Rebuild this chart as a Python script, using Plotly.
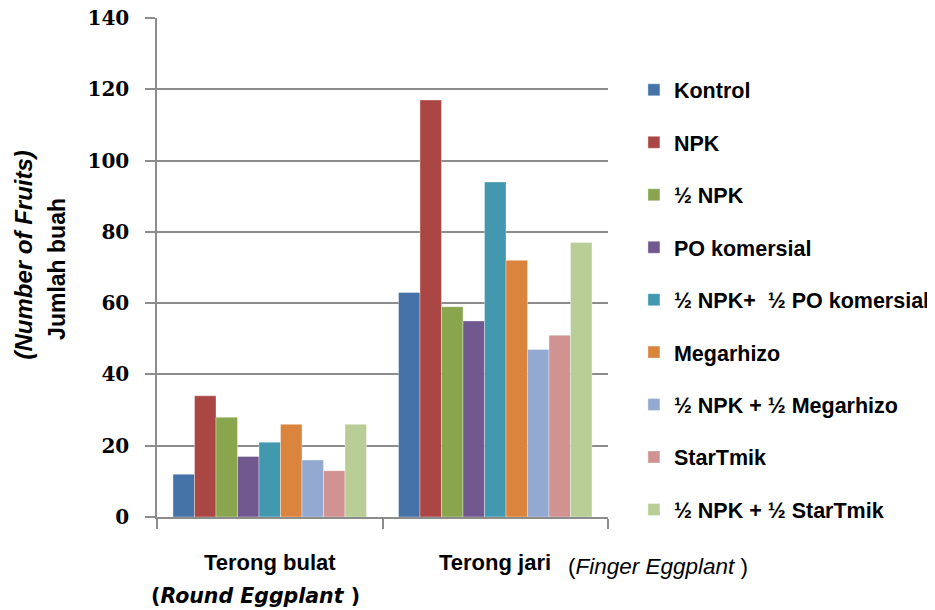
import plotly.graph_objects as go

categories = ["Terong bulat", "Terong jari"]
series_names = [
    "Kontrol", "NPK", "½ NPK", "PO komersial", "½ NPK+  ½ PO komersial",
    "Megarhizo", "½ NPK + ½ Megarhizo", "StarTmik", "½ NPK + ½ StarTmik",
]
terong_bulat = [12, 34, 28, 17, 21, 26, 16, 13, 26]
terong_jari = [63, 117, 59, 55, 94, 72, 47, 51, 77]
colors = ["#4572A7", "#AA4643", "#89A54E", "#71588F", "#4198AF",
          "#DB843D", "#93A9CF", "#D19392", "#B9CD96"]
y_ticks = [0, 20, 40, 60, 80, 100, 120, 140]

fig = go.Figure()
for i, name in enumerate(series_names):
    fig.add_trace(go.Bar(
        x=categories, y=[terong_bulat[i], terong_jari[i]], name=name,
        marker=dict(color=colors[i], line=dict(width=0.6, color="rgba(255,255,255,0.6)")),
        legendgroup=f"g{i}",
    ))

axis_gray = "#8c8c8c"
sans = "Liberation Sans, Arial, sans-serif"
# the page body has an 8px margin, so the figure is 927x602 placed at (8, 8)
fig.update_layout(
    width=927, height=602,
    margin=dict(l=149, r=327, t=10, b=93, autoexpand=False),
    paper_bgcolor="white", plot_bgcolor="white",
    barmode="group", bargap=0.142, bargroupgap=0,
    showlegend=True,
    legend=dict(x=1.0575, xanchor="left", y=0.897, yanchor="top",
                font=dict(family=sans, size=21.5, color="black", weight="bold"),
                tracegroupgap=21.5, traceorder="grouped", bgcolor="rgba(0,0,0,0)"),
    font=dict(family=sans, color="black"),
)
fig.update_xaxes(
    showticklabels=False, showline=True, linecolor=axis_gray, linewidth=1.5,
    ticks="outside", tickson="boundaries", ticklen=10, tickcolor=axis_gray, tickwidth=1.5,
    showgrid=False, zeroline=False, automargin=False,
)
fig.update_yaxes(
    range=[0, 140], tickvals=y_ticks, ticktext=[str(v) for v in y_ticks],
    showline=True, linecolor=axis_gray, linewidth=1.5,
    ticks="outside", ticklen=10, tickcolor=axis_gray, tickwidth=1.5,
    showgrid=True, gridcolor=axis_gray, gridwidth=1.5, zeroline=False,
    tickfont=dict(family="DejaVu Serif", size=20, color="black", weight="bold"),
    ticklabelstandoff=12, automargin=False, ticklabeloverflow="allow",
)

annotations = [
    dict(text="<b>Terong bulat</b>", x=0.2506, y=-0.092, size=22, fam=sans),
    dict(text="<b>(<i>Round Eggplant</i> )</b>", x=0.2195, y=-0.158, size=20.5, fam="DejaVu Sans"),
    dict(text="<b>Terong jari</b>", x=0.7494, y=-0.092, size=22, fam=sans),
    dict(text="(<i>Finger Eggplant</i> )", x=1.110, y=-0.099, size=22.5, fam=sans),
]
for a in annotations:
    fig.add_annotation(text=a["text"], xref="paper", yref="paper", x=a["x"], y=a["y"],
                       xanchor="center", yanchor="middle", showarrow=False,
                       font=dict(family=a["fam"], size=a["size"], color="black"))

fig.add_annotation(text="<b><i>(Number of Fruits)</i></b>", xref="paper", yref="paper",
                   x=-0.296, y=0.525, textangle=-90, showarrow=False,
                   xanchor="center", yanchor="middle",
                   font=dict(family=sans, size=24, color="black"))
fig.add_annotation(text="<b>Jumlah buah</b>", xref="paper", yref="paper",
                   x=-0.222, y=0.497, textangle=-90, showarrow=False,
                   xanchor="center", yanchor="middle",
                   font=dict(family=sans, size=23, color="black"))

fig.write_html("out.html")
